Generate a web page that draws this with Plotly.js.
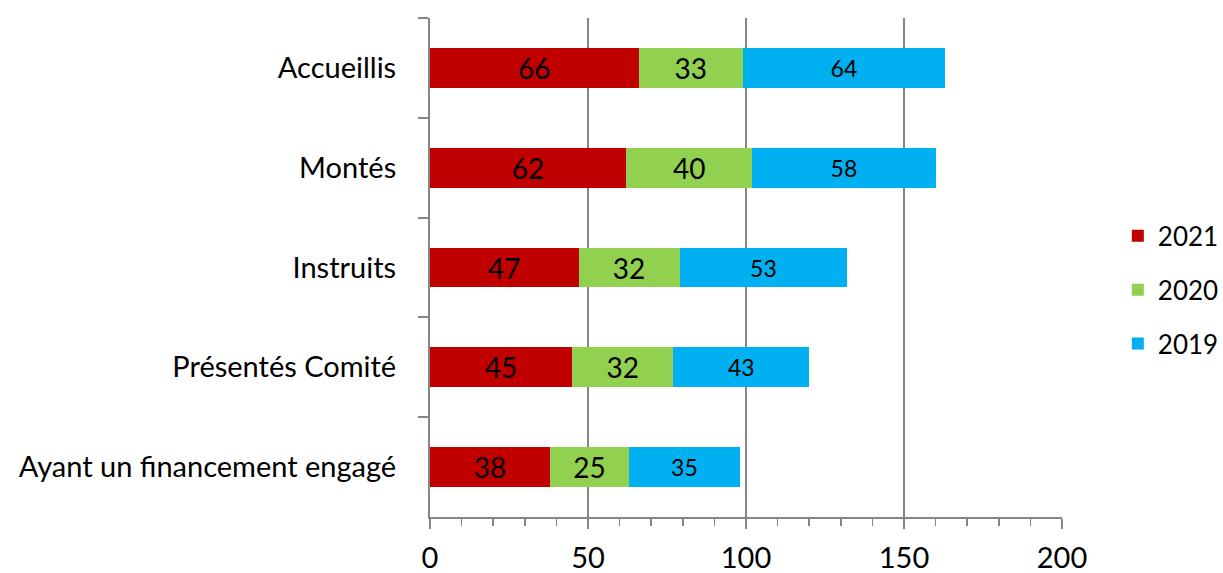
<!DOCTYPE html>
<html>
<head>
<meta charset="utf-8">
<script src="https://cdn.plot.ly/plotly-3.0.1.min.js"></script>
<style>html,body{margin:0;padding:0;background:#fff}#chart{width:1223px;height:573px}</style>
</head>
<body>
<div id="chart"></div>
<script>
const categories = ["Accueillis", "Montés", "Instruits", "Présentés Comité", "Ayant un financement engagé"];
const values2021 = [66, 62, 47, 45, 38];
const values2020 = [33, 40, 32, 32, 25];
const values2019 = [64, 58, 53, 43, 35];
const seriesNames = ["2021", "2020", "2019"];
const xTickVals = [0, 50, 100, 150, 200];

const FONT = "Lato, 'Open Sans', sans-serif";
const colors = ["#C00000", "#92D050", "#00B0F0"];
const seriesVals = [values2021, values2020, values2019];
const textSizes = [28, 28, 23];

const traces = seriesVals.map((vals, i) => ({
  type: "bar",
  orientation: "h",
  name: seriesNames[i],
  legendgroup: seriesNames[i],
  y: categories,
  x: vals,
  text: vals.map(String),
  textposition: "inside",
  insidetextanchor: "middle",
  constraintext: "none",
  textangle: 0,
  insidetextfont: {family: FONT, size: textSizes[i], color: "#000000"},
  marker: {color: colors[i], line: {width: 0}},
  hoverinfo: "x+y+name"
}));

const layout = {
  width: 1223,
  height: 573,
  margin: {l: 430, r: 161, t: 18, b: 56, autoexpand: false},
  paper_bgcolor: "#ffffff",
  plot_bgcolor: "#ffffff",
  barmode: "stack",
  bargap: 0.6,
  font: {family: FONT, size: 28, color: "#000000"},
  xaxis: {
    range: [0, 200],
    tickvals: xTickVals,
    ticks: "outside",
    ticklen: 10,
    tickwidth: 2,
    tickcolor: "#868686",
    showgrid: true,
    gridcolor: "#868686",
    gridwidth: 2,
    zeroline: false,
    showline: true,
    linecolor: "#868686",
    linewidth: 2,
    tickfont: {family: FONT, size: 29, color: "#000000"},
    ticklabelstandoff: 4,
    minor: {dtick: 10, ticks: "outside", ticklen: 7, tickwidth: 1.5, tickcolor: "#868686", showgrid: false}
  },
  yaxis: {
    type: "category",
    categoryorder: "array",
    categoryarray: categories,
    autorange: "reversed",
    tickson: "boundaries",
    ticks: "outside",
    ticklen: 10,
    tickwidth: 2,
    tickcolor: "#868686",
    showline: true,
    linecolor: "#868686",
    linewidth: 2,
    showgrid: false,
    zeroline: false,
    tickfont: {family: FONT, size: 29, color: "#000000"},
    ticklabelstandoff: 26
  },
  showlegend: true,
  legend: {
    xref: "container",
    yref: "container",
    x: 0.914,
    xanchor: "left",
    y: 0.494,
    yanchor: "middle",
    traceorder: "grouped",
    tracegroupgap: 17,
    font: {family: FONT, size: 26, color: "#000000"},
    itemwidth: 30,
    bgcolor: "rgba(0,0,0,0)"
  }
};

Plotly.newPlot("chart", traces, layout, {displayModeBar: false, staticPlot: true});
</script>
</body>
</html>
